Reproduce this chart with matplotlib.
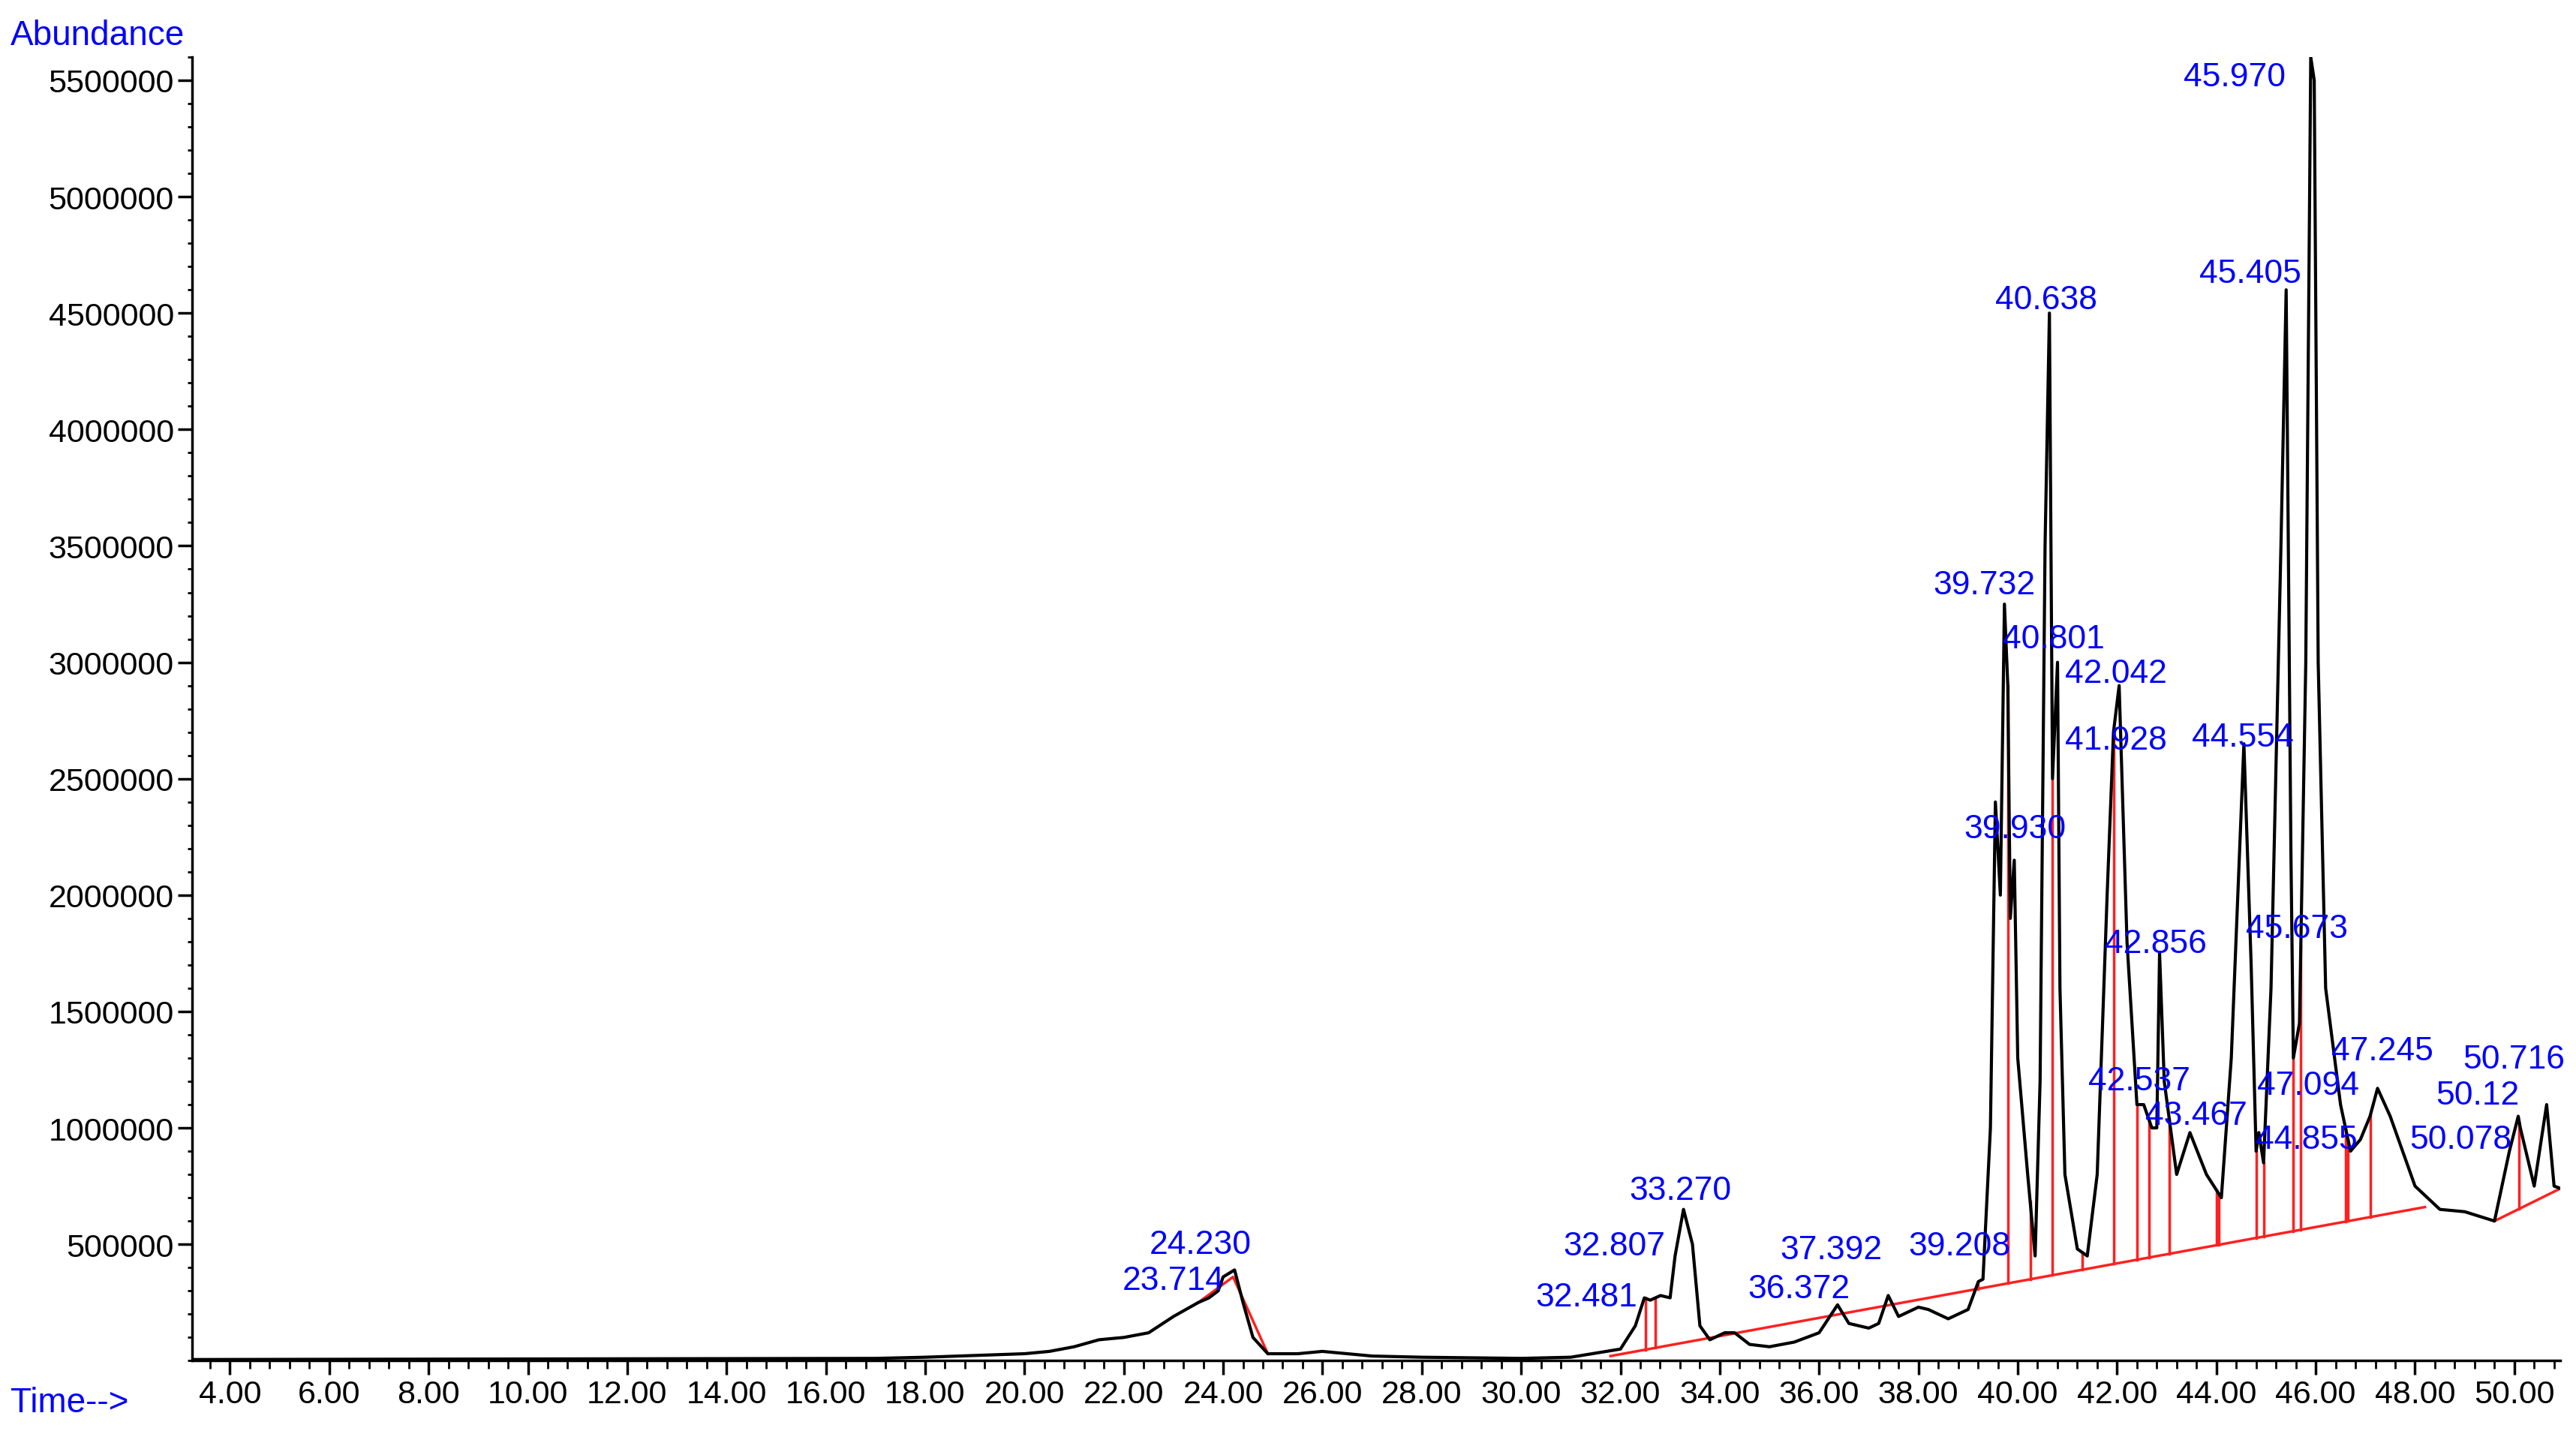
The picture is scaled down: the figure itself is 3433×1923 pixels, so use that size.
import numpy as np
import matplotlib.pyplot as plt
from matplotlib.ticker import MultipleLocator

plt.rcParams['font.family'] = ['Liberation Sans', 'DejaVu Sans']

# trace (minutes, abundance)
t = [3.2, 17.0, 18.0, 20.0, 20.5, 21.0, 21.5, 22.0, 22.5, 23.0, 23.5, 23.714, 23.9, 24.0,
     24.23, 24.4, 24.6, 24.9, 25.5, 26.0, 27.0, 28.0, 30.0, 31.0, 32.0, 32.3, 32.481, 32.6,
     32.807, 33.0, 33.1, 33.27, 33.45, 33.6, 33.8, 34.1, 34.3, 34.6, 35.0, 35.5, 36.0, 36.372,
     36.6, 37.0, 37.2, 37.392, 37.6, 38.0, 38.2, 38.6, 39.0, 39.208, 39.3, 39.45, 39.55, 39.65,
     39.732, 39.8, 39.85, 39.93, 40.0, 40.2, 40.35, 40.45, 40.55, 40.638, 40.7, 40.801, 40.85,
     40.95, 41.2, 41.4, 41.6, 41.8, 41.928, 42.042, 42.2, 42.4, 42.537, 42.7, 42.8, 42.856,
     42.95, 43.2, 43.467, 43.8, 44.1, 44.3, 44.554, 44.7, 44.8, 44.855, 44.95, 45.1, 45.3,
     45.405, 45.5, 45.55, 45.673, 45.8, 45.9, 45.97, 46.05, 46.2, 46.5, 46.7, 46.9, 47.094,
     47.245, 47.5, 48.0, 48.5, 49.0, 49.6, 49.9, 50.078, 50.12, 50.4, 50.65, 50.8, 50.93]
abund = [0.005, 0.01, 0.015, 0.03, 0.04, 0.06, 0.09, 0.1, 0.12, 0.19, 0.25, 0.27, 0.3, 0.36,
         0.39, 0.25, 0.1, 0.03, 0.03, 0.04, 0.02, 0.015, 0.01, 0.015, 0.05, 0.15, 0.27, 0.26,
         0.28, 0.27, 0.45, 0.65, 0.5, 0.15, 0.09, 0.12, 0.12, 0.07, 0.06, 0.08, 0.12, 0.24,
         0.16, 0.14, 0.16, 0.28, 0.19, 0.23, 0.22, 0.18, 0.22, 0.34, 0.35, 1.0, 2.4, 2.0,
         3.25, 2.9, 1.9, 2.15, 1.3, 0.8, 0.45, 1.2, 3.5, 4.5, 2.5, 3.0, 1.6,
         0.8, 0.48, 0.45, 0.8, 2.0, 2.7, 2.9, 1.8, 1.1, 1.1, 1.0, 1.0, 1.75,
         1.2, 0.8, 0.98, 0.8, 0.7, 1.3, 2.65, 1.7, 0.9, 0.98, 0.85, 1.6, 3.5,
         4.6, 2.2, 1.3, 1.45, 3.0, 5.6, 5.5, 3.0, 1.6, 1.1, 0.9, 0.95, 1.05,
         1.17, 1.05, 0.75, 0.65, 0.64, 0.6, 0.9, 1.05, 1.0, 0.75, 1.1, 0.75, 0.74]
abund = np.array(abund) * 1e6

# integration baselines
base_t = [[23.5, 24.2, 24.9], [31.8, 48.2], [49.6, 50.93]]
base_y = [[0.25, 0.36, 0.03], [0.02, 0.66], [0.6, 0.74]]

# drop lines
drop_t = [39.2, 39.8, 40.25, 40.7, 41.3, 41.93, 42.4, 42.65, 43.05, 44.0, 44.05, 44.8,
          44.95, 45.55, 45.7, 46.6, 46.65, 47.1, 32.5, 32.7, 50.1]

# peak labels: text, time, abundance of label
labels = ['23.714', '24.230', '32.481', '32.807', '33.270', '36.372', '37.392', '39.208',
          '39.732', '39.930', '40.638', '40.801', '42.042', '41.928', '42.856', '42.537',
          '43.467', '44.554', '45.970', '45.405', '45.673', '47.094', '44.855', '47.245',
          '50.12', '50.078', '50.716']
lab_t = [22.99, 23.54, 31.32, 31.88, 33.21, 35.59, 36.25, 38.83, 39.33, 39.95, 40.58, 40.72,
         41.98, 41.98, 42.78, 42.45, 43.60, 44.53, 44.36, 44.69, 45.62, 45.85, 45.82, 47.34,
         49.26, 48.92, 49.99]
lab_y = [0.345, 0.499, 0.274, 0.492, 0.731, 0.309, 0.478, 0.492, 3.333, 2.286, 4.557, 3.101,
         2.953, 2.665, 1.793, 1.203, 1.055, 2.679, 5.513, 4.669, 1.856, 1.181, 0.949, 1.330,
         1.140, 0.949, 1.294]

fig = plt.figure(figsize=(34.33, 19.24), dpi=100)
ax = fig.add_axes([0.0746, 0.057, 0.9194, 0.903])

red = '#ff2020'
blue = '#0000ff'
for bt, by in zip(base_t, base_y):
    ax.plot(bt, np.array(by) * 1e6, color=red, lw=2.5)
for d in drop_t:
    seg = 2 if d > 49 else 1
    b = np.interp(d, base_t[seg], np.array(base_y[seg]) * 1e6)
    top = np.interp(d, t, abund)
    ax.plot([d, d], [b, top], color=red, lw=2.5)

ax.plot(t, abund, color='black', lw=3)

for s, x, y in zip(labels, lab_t, lab_y):
    ax.text(x, y * 1e6, s, color=blue, fontsize=32, ha='center', va='center')

ax.set_xlim(3.24, 50.93)
ax.set_ylim(0, 5.6e6)
ax.set_xticks(np.arange(4, 51, 2))
ax.set_xticklabels(['%.2f' % v for v in np.arange(4, 51, 2)])
ax.xaxis.set_minor_locator(MultipleLocator(0.4))
ax.set_yticks(np.arange(500000, 5500001, 500000))
ax.set_yticklabels([str(v) for v in range(500000, 5500001, 500000)])
ax.yaxis.set_minor_locator(MultipleLocator(100000))
ax.tick_params(labelsize=31, width=2.5, length=14)
ax.tick_params(axis='x', which='minor', width=2, length=8)
ax.tick_params(axis='y', which='minor', width=2, length=4)
for sp in ['top', 'right']:
    ax.spines[sp].set_visible(False)
for sp in ['left', 'bottom']:
    ax.spines[sp].set_linewidth(2.5)

fig.text(0.004, 0.975, 'Abundance', color=blue, fontsize=33, va='center')
fig.text(0.004, 0.028, 'Time-->', color=blue, fontsize=33, va='center')

fig.savefig('out.png', dpi=100)
